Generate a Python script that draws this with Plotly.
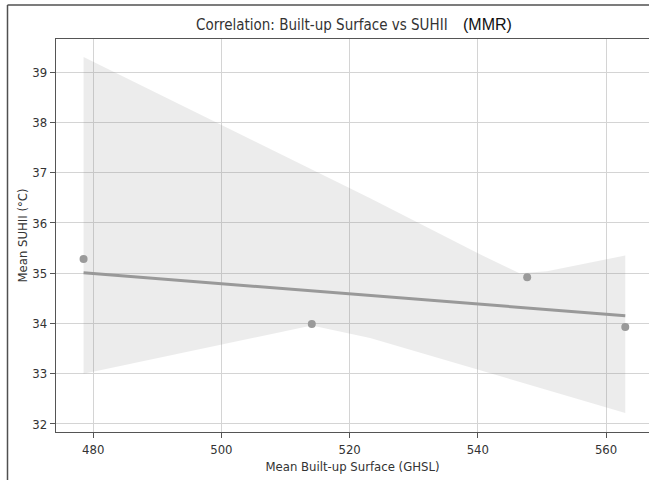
import numpy as np
import plotly.graph_objects as go

# ---- data ----
built_up = [478.5, 514.1, 547.7, 563.0]          # Mean Built-up Surface (GHSL)
suhii = [35.28, 33.99, 34.92, 33.93]             # Mean SUHII (°C)

# confidence band (bootstrap 95% CI as drawn)
band_x = [478.5, 514.1, 523.2, 540.4, 546.5, 550.8, 563.0]
band_hi = [39.30, 37.06, 36.49, 35.37, 35.00, 35.04, 35.35]
band_lo = [33.00, 33.96, 33.71, 33.07, 32.84, 32.68, 32.22]

x_ticks = [480, 500, 520, 540, 560]
y_ticks = [32, 33, 34, 35, 36, 37, 38, 39]

title_main = "Correlation: Built-up Surface vs SUHII"
title_tag = "(MMR)"
x_title = "Mean Built-up Surface (GHSL)"
y_title = "Mean SUHII (°C)"

# ---- regression line from the data ----
slope, intercept = np.polyfit(built_up, suhii, 1)
line_x = [min(built_up), max(built_up)]
line_y = [slope * v + intercept for v in line_x]

FONT = "DejaVu Sans Condensed, DejaVu Sans, sans-serif"
TXT = "#333333"

fig = go.Figure()
fig.add_trace(go.Scatter(
    x=band_x + band_x[::-1], y=band_hi + band_lo[::-1],
    fill="toself", fillcolor="rgba(128,128,128,0.15)",
    line=dict(width=0), mode="lines", hoverinfo="skip"))
fig.add_trace(go.Scatter(
    x=built_up, y=suhii, mode="markers",
    marker=dict(color="#9a9a9a", size=8)))
fig.add_trace(go.Scatter(
    x=line_x, y=line_y, mode="lines",
    line=dict(color="#999999", width=3)))

W, H = 649, 480
L, R, T, B = 56, 0, 39, 48
pw, ph = W - L - R, H - T - B

def px_x(p):
    return (p - L) / pw

def px_y(p):
    return (H - B - p) / ph

axis_common = dict(
    showgrid=True, gridcolor="#d4d4d4", gridwidth=1,
    showline=True, linecolor="#555555", linewidth=1.3,
    ticks="outside", ticklen=5, tickcolor="#555555", tickwidth=1,
    tickfont=dict(family=FONT, size=13, color=TXT),
    zeroline=False,
)

fig.update_layout(
    width=W, height=H,
    margin=dict(l=L, r=R, t=T, b=B, autoexpand=False),
    paper_bgcolor="white", plot_bgcolor="white",
    showlegend=False,
    xaxis=dict(range=[474.2, 566.7], tickvals=x_ticks, mirror=True,
               title=dict(text=x_title, font=dict(family=FONT, size=13, color=TXT), standoff=6),
               **axis_common),
    yaxis=dict(range=[31.84, 39.66], tickvals=y_ticks,
               title=dict(text=y_title, font=dict(family=FONT, size=13, color=TXT), standoff=1),
               **axis_common),
    annotations=[
        dict(text=title_main, xref="paper", yref="paper", x=px_x(450), y=px_y(25),
             xanchor="right", yanchor="middle", showarrow=False,
             font=dict(family=FONT, size=15, color=TXT)),
        dict(text=title_tag, xref="paper", yref="paper", x=px_x(461), y=px_y(24),
             xanchor="left", yanchor="middle", showarrow=False,
             font=dict(family="Liberation Sans, Arial, sans-serif", size=16, color="#111111")),
    ],
    shapes=[
        dict(type="line", xref="paper", yref="paper", x0=px_x(7.5), x1=px_x(7.5),
             y0=px_y(5), y1=px_y(481), line=dict(color="#505050", width=1.5)),
        dict(type="line", xref="paper", yref="paper", x0=px_x(7.5), x1=px_x(650),
             y0=px_y(5), y1=px_y(5), line=dict(color="#505050", width=1.5)),
    ],
)

fig.write_html(
    "out.html",
    config={"displayModeBar": False},
    post_script="document.body.style.margin='0';document.body.style.overflow='hidden';",
)
